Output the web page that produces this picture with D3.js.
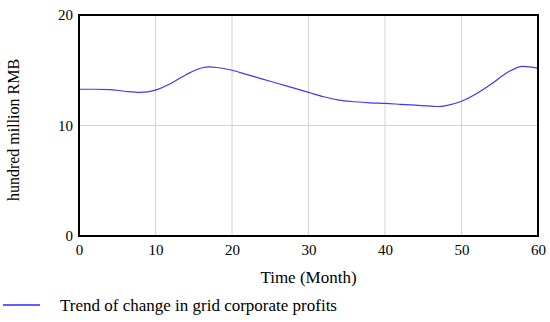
<!DOCTYPE html>
<html>
<head>
<meta charset="utf-8">
<script src="https://cdn.jsdelivr.net/npm/d3@7"></script>
<style>
  body { margin: 0; background: #fff; }
  text { font-family: "Liberation Serif", "Times New Roman", serif; }
</style>
</head>
<body>
<div id="wrapper"></div>
<script>
// Data
const months = [0, 2, 4, 6, 8, 10, 12, 14, 16, 17, 18, 20, 22, 24, 26, 28, 30, 32, 34, 36, 38, 40, 42, 44, 46, 47, 48, 50, 52, 54, 56, 58, 60];
const profits = [13.28, 13.28, 13.25, 13.1, 13.0, 13.2, 13.8, 14.6, 15.2, 15.3, 15.25, 15.0, 14.6, 14.2, 13.8, 13.4, 13.0, 12.6, 12.3, 12.15, 12.05, 12.0, 11.92, 11.84, 11.75, 11.72, 11.8, 12.2, 12.9, 13.8, 14.8, 15.35, 15.2];
const xTicks = [0, 10, 20, 30, 40, 50, 60];
const yTicks = [0, 10, 20];
const seriesName = "Trend of change in grid corporate profits";

const dimensions = {
  width: 550,
  height: 322,
  margin: { top: 15, right: 12, bottom: 86, left: 79 },
};
dimensions.boundedWidth = dimensions.width - dimensions.margin.left - dimensions.margin.right;
dimensions.boundedHeight = dimensions.height - dimensions.margin.top - dimensions.margin.bottom;

const svg = d3.select("#wrapper")
  .append("svg")
  .attr("width", dimensions.width)
  .attr("height", dimensions.height);

const bounds = svg.append("g")
  .attr("transform", `translate(${dimensions.margin.left},${dimensions.margin.top})`);

const xScale = d3.scaleLinear().domain([0, 60]).range([0, dimensions.boundedWidth]);
const yScale = d3.scaleLinear().domain([0, 20]).range([dimensions.boundedHeight, 0]);

// grid
bounds.append("g")
  .selectAll("line")
  .data(xTicks)
  .join("line")
  .attr("x1", d => xScale(d)).attr("x2", d => xScale(d))
  .attr("y1", 0).attr("y2", dimensions.boundedHeight)
  .attr("stroke", "#d4d4d4").attr("stroke-width", 1);

bounds.append("g")
  .selectAll("line")
  .data(yTicks)
  .join("line")
  .attr("x1", 0).attr("x2", dimensions.boundedWidth)
  .attr("y1", d => yScale(d)).attr("y2", d => yScale(d))
  .attr("stroke", "#d4d4d4").attr("stroke-width", 1);

// line
const lineGen = d3.line()
  .x((d, i) => xScale(months[i]))
  .y(d => yScale(d))
  .curve(d3.curveMonotoneX);

bounds.append("path")
  .datum(profits)
  .attr("d", lineGen)
  .attr("fill", "none")
  .attr("stroke", "#3a3aff")
  .attr("stroke-width", 1.2);

// frame
bounds.append("rect")
  .attr("width", dimensions.boundedWidth)
  .attr("height", dimensions.boundedHeight)
  .attr("fill", "none")
  .attr("stroke", "#000")
  .attr("stroke-width", 2);

// axes
const xAxis = bounds.append("g")
  .attr("transform", `translate(0,${dimensions.boundedHeight})`)
  .call(d3.axisBottom(xScale).tickValues(xTicks).tickSize(0).tickPadding(8));
const yAxis = bounds.append("g")
  .call(d3.axisLeft(yScale).tickValues(yTicks).tickSize(0).tickPadding(6));

[xAxis, yAxis].forEach(a => {
  a.select(".domain").remove();
  a.selectAll("text")
    .style("font-family", '"Liberation Serif", serif')
    .style("font-size", "15px")
    .attr("fill", "#000");
});

// axis titles
svg.append("text")
  .attr("x", dimensions.margin.left + dimensions.boundedWidth / 2)
  .attr("y", 283)
  .attr("text-anchor", "middle")
  .style("font-size", "17px")
  .text("Time (Month)");

svg.append("text")
  .attr("transform", `translate(19,130) rotate(-90)`)
  .attr("text-anchor", "middle")
  .style("font-size", "16px")
  .text("hundred million RMB");

// legend
const legend = svg.append("g").attr("transform", "translate(3,305)");
legend.append("line")
  .attr("x1", 0).attr("x2", 37)
  .attr("y1", 0).attr("y2", 0)
  .attr("stroke", "#2a2aff")
  .attr("stroke-width", 1.5);
legend.append("text")
  .attr("x", 57)
  .attr("y", 6)
  .style("font-size", "17px")
  .text(seriesName);
</script>
</body>
</html>
